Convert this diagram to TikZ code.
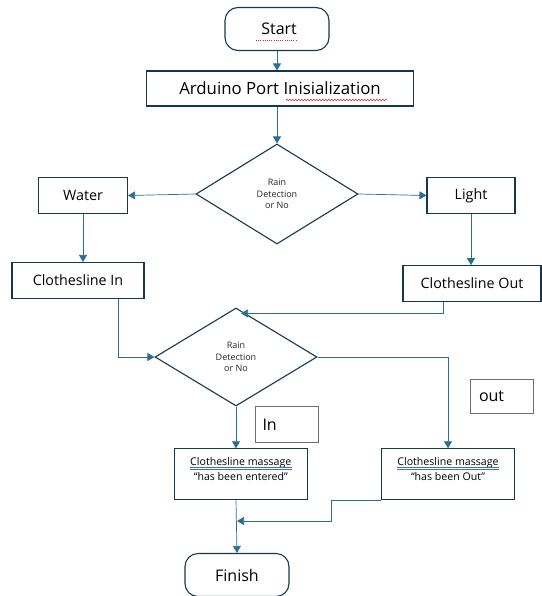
\documentclass[tikz,border=0pt]{standalone}
\usepackage{fontspec}
\setmainfont{Open Sans}
\usetikzlibrary{shapes.geometric,arrows.meta,calc,decorations.pathmorphing}
\definecolor{bord}{HTML}{17384C}
\definecolor{arrc}{HTML}{2A6F92}
\definecolor{greyb}{HTML}{6E6E6E}
\definecolor{spell}{HTML}{D42A2A}
\definecolor{grammar}{HTML}{3B6FD6}
\tikzset{
  box/.style={draw=bord,line width=1.1pt,rectangle,inner sep=0pt,align=center,text=black},
  term/.style={box,rounded corners=13pt},
  dec/.style={draw=bord,line width=1.1pt,diamond,inner sep=0pt,align=center,font=\fontsize{9}{11.5}\selectfont,text=black!85},
  note/.style={draw=greyb,line width=0.6pt,rectangle,inner sep=0pt,font=\fontsize{16}{19}\selectfont},
  arr/.style={draw=arrc,line width=0.7pt,-{Triangle[length=7pt,width=8pt]},color=arrc},
  f17/.style={font=\fontsize{16.8}{20}\selectfont},
  f16/.style={font=\fontsize{16}{19}\selectfont},
  f14/.style={font=\fontsize{14.3}{17}\selectfont},
  f10/.style={font=\fontsize{10.6}{14}\selectfont,inner sep=0pt},
}
\begin{document}
\begin{tikzpicture}[x=1pt,y=-1pt]
\useasboundingbox (0,0) rectangle (541,596);
% nodes
\node[term,f16,minimum width=104pt,minimum height=43pt] (start) at (277,29) {\phantom{.}Start};
\node[box,f17,minimum width=267pt,minimum height=35pt] (ard) at (280,88.5) {Arduino Port Inisialization};
\node[dec,minimum width=162pt,minimum height=100pt] (d1) at (277,194) {Rain\\Detection\\or No};
\node[box,f14,minimum width=89pt,minimum height=35.5pt] (water) at (83,195.5) {Water};
\node[box,f14,minimum width=88pt,minimum height=35.5pt] (light) at (471,195.5) {Light};
\node[box,f14,minimum width=132pt,minimum height=36pt] (cin) at (78,280.5) {Clothesline In};
\node[box,f14,minimum width=138pt,minimum height=35.5pt] (cout) at (472,283.5) {Clothesline Out};
\node[dec,minimum width=162pt,minimum height=98pt] (d2) at (236,357) {Rain\\Detection\\or No};
\node[note,minimum width=63pt,minimum height=36pt,text width=49pt,align=left] (in) at (287,424.5) {In};
\node[note,minimum width=63pt,minimum height=34pt,text width=45pt,align=left] (out) at (501.5,396) {out};
\node[box,minimum width=133pt,minimum height=51pt,anchor=north] (msgL) at (240.8,448.3) {};
\node[box,minimum width=133pt,minimum height=51pt,anchor=north] (msgR) at (448,448.3) {};
\node[f10,anchor=base] (msgL1) at ($(msgL.north)+(0,17.5)$) {Clothesline\ massage};
\node[f10,anchor=base] (msgL2) at ($(msgL.north)+(0,32)$) {\textquotedblleft has been entered\textquotedblright};
\node[f10,anchor=base] (msgR1) at ($(msgR.north)+(0,17.5)$) {Clothesline\ massage};
\node[f10,anchor=base] (msgR2) at ($(msgR.north)+(0,32)$) {\textquotedblleft has been Out\textquotedblright};
\node[term,f16,minimum width=104pt,minimum height=43pt] (fin) at (237,575) {Finish};
% spell-check marks
\draw[spell,line width=0.5pt,dash pattern=on 1pt off 1.2pt] ($(start.center)+(-21,11)$) -- ($(start.center)+(20,11)$);
\draw[spell,line width=0.5pt,decorate,decoration={zigzag,segment length=3pt,amplitude=0.9pt}] (286,100) -- (387,100);
\foreach \m in {msgL1,msgR1}{
  \draw[grammar,line width=0.5pt] ($(\m.base west)+(0,1.8)$) -- ($(\m.base east)+(0,1.8)$);
  \draw[grammar,line width=0.5pt] ($(\m.base west)+(0,3.6)$) -- ($(\m.base east)+(0,3.6)$);
}
% connectors
\draw[arr] (start.south -| ard.north) ++(-3,0) coordinate (s1) -- (s1 |- ard.north);
\draw[arr] (ard.south -| d1.north) -- (d1.north);
\draw[arr] (d1.west) -- (water.east);
\draw[arr] (d1.east) -- (light.west);
\draw[arr] (water.south) -- (cin.north -| water.south);
\draw[arr] (light.south) -- (cout.north -| light.south);
\coordinate (coutb) at ($(cout.south)+(-29,0)$);
\coordinate (d2top) at ($(d2.north)+(5,6)$);
\draw[arr] (coutb) |- (d2top);
\coordinate (cinb) at ($(cin.south)+(40,0)$);
\draw[arr] (cinb) |- (d2.west);
\draw[arr] (d2.east) -| (msgR.north);
\draw[arr] (d2.south) -- (d2.south |- msgL.north);
\coordinate (join) at (237,521);
\draw[arr] (msgL.south -| d2.south) -- (fin.north);
\draw[arr] (msgR.south west) -- ++(-50,0) |- (join);
\end{tikzpicture}
\end{document}
